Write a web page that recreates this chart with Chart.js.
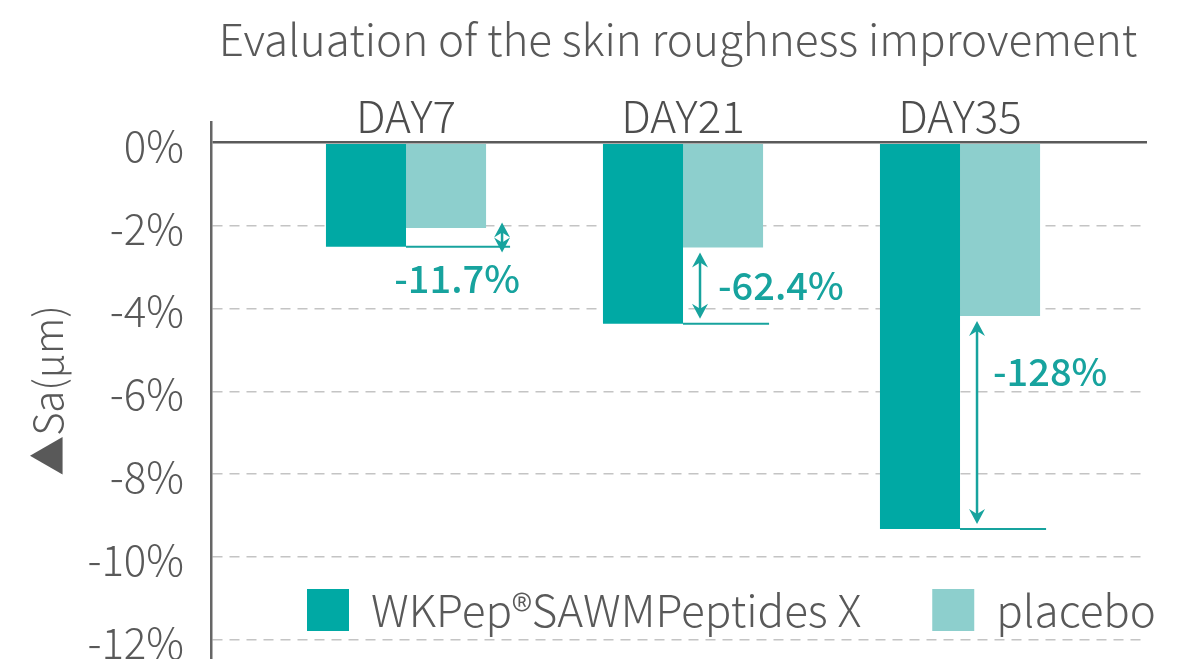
<!DOCTYPE html>
<html>
<head>
<meta charset="utf-8">
<script src="https://cdn.jsdelivr.net/npm/chart.js@4.4.1/dist/chart.umd.min.js"></script>
<style>
  html, body { margin: 0; padding: 0; background: #fff; }
  #wrap { width: 1183px; height: 659px; position: relative; }
</style>
</head>
<body>
<div id="wrap"><canvas id="skinChart"></canvas></div>
<script>
// data
const days = ['DAY7', 'DAY21', 'DAY35'];
const seriesNames = ['WKPep®SAWMPeptides X', 'placebo'];
const peptideValues = [-2.51, -4.37, -9.32];
const placeboValues = [-2.06, -2.53, -4.18];
const improvementLabels = ['-11.7%', '-62.4%', '-128%'];
const yTicks = [0, -2, -4, -6, -8, -10, -12];
const yTickLabels = ['0%', '-2%', '-4%', '-6%', '-8%', '-10%', '-12%'];

const DARK = '#00a9a4';
const LIGHT = '#8dcfcd';
const TEAL_TEXT = '#17a39e';
const GREY = '#595959';
const FONT = "'Noto Sans CJK SC', 'Noto Sans', sans-serif";

Chart.defaults.font.family = FONT;
Chart.defaults.color = GREY;

// where the difference arrows and their labels sit, per category
const noteLayout = [
    { arrow: 'outside', anchor: 'below', dx: 11, dy: 32, align: 'center' },
    { arrow: 'inside', anchor: 'middle', dx: 18, dy: 0, align: 'left' },
    { arrow: 'inside', anchor: 'top', dx: 16, dy: 56, align: 'left' }
];

function arrowHead(ctx, x, tipY, dir) {
    // dir = 1 points down, -1 points up
    ctx.beginPath();
    ctx.moveTo(x, tipY);
    ctx.lineTo(x - 8, tipY - dir * 15);
    ctx.lineTo(x, tipY - dir * 10);
    ctx.lineTo(x + 8, tipY - dir * 15);
    ctx.closePath();
    ctx.fill();
}

const diffArrows = {
    id: 'diffArrows',
    afterDatasetsDraw(chart) {
        const ctx = chart.ctx;
        const pep = chart.getDatasetMeta(0).data;
        const pla = chart.getDatasetMeta(1).data;
        ctx.save();
        ctx.strokeStyle = TEAL_TEXT;
        ctx.fillStyle = TEAL_TEXT;
        pep.forEach((bar, i) => {
            const p = pla[i];
            const lay = noteLayout[i];
            const yTop = p.y;
            const yBot = bar.y;
            const pLeft = p.x - p.width / 2;
            const pRight = p.x + p.width / 2;
            const ax = lay.arrow === 'outside' ? pRight + 16 : pLeft + 17;

            // level line of the peptide bar
            ctx.lineWidth = 2;
            ctx.beginPath();
            ctx.moveTo(bar.x + bar.width / 2, yBot);
            ctx.lineTo(lay.arrow === 'outside' ? ax + 8 : pRight + 6, yBot);
            ctx.stroke();

            // double arrow
            let a = yTop + 5, b = yBot - 5;
            if (b - a < 30) {
                const m = (a + b) / 2;
                a = m - 15;
                b = m + 15;
            }
            ctx.lineWidth = 2.5;
            ctx.beginPath();
            ctx.moveTo(ax, a + 8);
            ctx.lineTo(ax, b - 8);
            ctx.stroke();
            arrowHead(ctx, ax, a, -1);
            arrowHead(ctx, ax, b, 1);

            // label
            let tx, ty;
            if (lay.anchor === 'below') { tx = p.x + lay.dx; ty = yBot + lay.dy; }
            else if (lay.anchor === 'middle') { tx = ax + lay.dx; ty = (yTop + yBot) / 2; }
            else { tx = ax + lay.dx; ty = yTop + lay.dy; }
            ctx.font = "500 38px " + FONT;
            ctx.textAlign = lay.align;
            ctx.textBaseline = 'middle';
            ctx.fillText(improvementLabels[i], tx, ty);
        });
        ctx.restore();
    }
};

// legend sits inside the plot, over the lower grid lines
const legendInside = {
    id: 'legendInside',
    beforeLayout(chart) {
        const lg = chart.legend;
        if (lg && !lg._flat) {
            const fit = lg.fit;
            lg.fit = function () { fit.call(this); this.height = 0; };
            lg._flat = true;
        }
    },
    afterLayout(chart) {
        const lg = chart.legend;
        const pad = lg.options.labels.padding;
        lg.left = 307 - pad;
        lg.right = 1500;
        lg.top = 588 - pad;
        lg.bottom = 720;
    }
};

const ctx = document.getElementById('skinChart').getContext('2d');
new Chart(ctx, {
    type: 'bar',
    data: {
        datasets: [
            {
                label: seriesNames[0],
                data: peptideValues.map((v, i) => ({ x: i, y: v })),
                backgroundColor: DARK,
                borderWidth: 0,
                categoryPercentage: 0.578,
                barPercentage: 1
            },
            {
                label: seriesNames[1],
                data: placeboValues.map((v, i) => ({ x: i, y: v })),
                backgroundColor: LIGHT,
                borderWidth: 0,
                categoryPercentage: 0.578,
                barPercentage: 1
            }
        ]
    },
    options: {
        responsive: true,
        maintainAspectRatio: false,
        animation: false,
        layout: { padding: { left: 10, right: 36, top: 0, bottom: 0 } },
        scales: {
            x: {
                type: 'linear',
                position: 'top',
                offset: false,
                min: -0.704,
                max: 2.675,
                grid: { display: false, drawTicks: false, offset: false },
                border: { display: false },
                afterBuildTicks: (scale) => { scale.ticks = days.map((d, i) => ({ value: i })); },
                afterFit: (scale) => {
                    scale.height = 46.2;
                    // day labels hang a little below the axis box; don't clip them
                    scale._computeLabelArea = () => undefined;
                },
                ticks: {
                    autoSkip: false,
                    maxRotation: 0,
                    padding: -21,
                    color: '#4d4d4d',
                    font: { size: 44, weight: 300 },
                    callback: (value) => days[value]
                }
            },
            y: {
                min: -12.46,
                max: 0.5,
                afterBuildTicks: (scale) => { scale.ticks = yTicks.map(v => ({ value: v })); },
                afterFit: (scale) => {
                    scale.width = 201;
                    scale.paddingTop = 0;
                    scale.paddingBottom = 0;
                },
                grid: {
                    drawTicks: false,
                    color: (c) => (c.tick && c.tick.value === 0 ? '#5a5a5a' : '#c4c4c4'),
                    lineWidth: (c) => (c.tick && c.tick.value === 0 ? 2.5 : 1.5)
                },
                border: {
                    display: true,
                    color: '#666666',
                    width: 2.5,
                    dash: (c) => (c.type === 'tick' && c.tick.value !== 0 ? [10, 7] : [])
                },
                title: {
                    display: true,
                    text: '▲Sa(μm)',
                    color: GREY,
                    font: { size: 40, weight: 300 },
                    padding: { top: 14, bottom: 0 }
                },
                ticks: {
                    padding: 27,
                    labelOffset: 3,
                    color: GREY,
                    font: { size: 42, weight: 300 },
                    callback: (value) => yTickLabels[yTicks.indexOf(value)]
                }
            }
        },
        plugins: {
            title: {
                display: true,
                text: 'Evaluation of the skin roughness improvement ',
                align: 'end',
                color: GREY,
                font: { size: 44, weight: 300 },
                padding: { top: 13, bottom: 10 }
            },
            legend: {
                display: true,
                position: 'bottom',
                align: 'start',
                labels: {
                    boxWidth: 42,
                    boxHeight: 42,
                    padding: 71,
                    color: GREY,
                    font: { size: 44, weight: 300 }
                }
            },
            tooltip: { enabled: false }
        }
    },
    plugins: [legendInside, diffArrows]
});
</script>
</body>
</html>
